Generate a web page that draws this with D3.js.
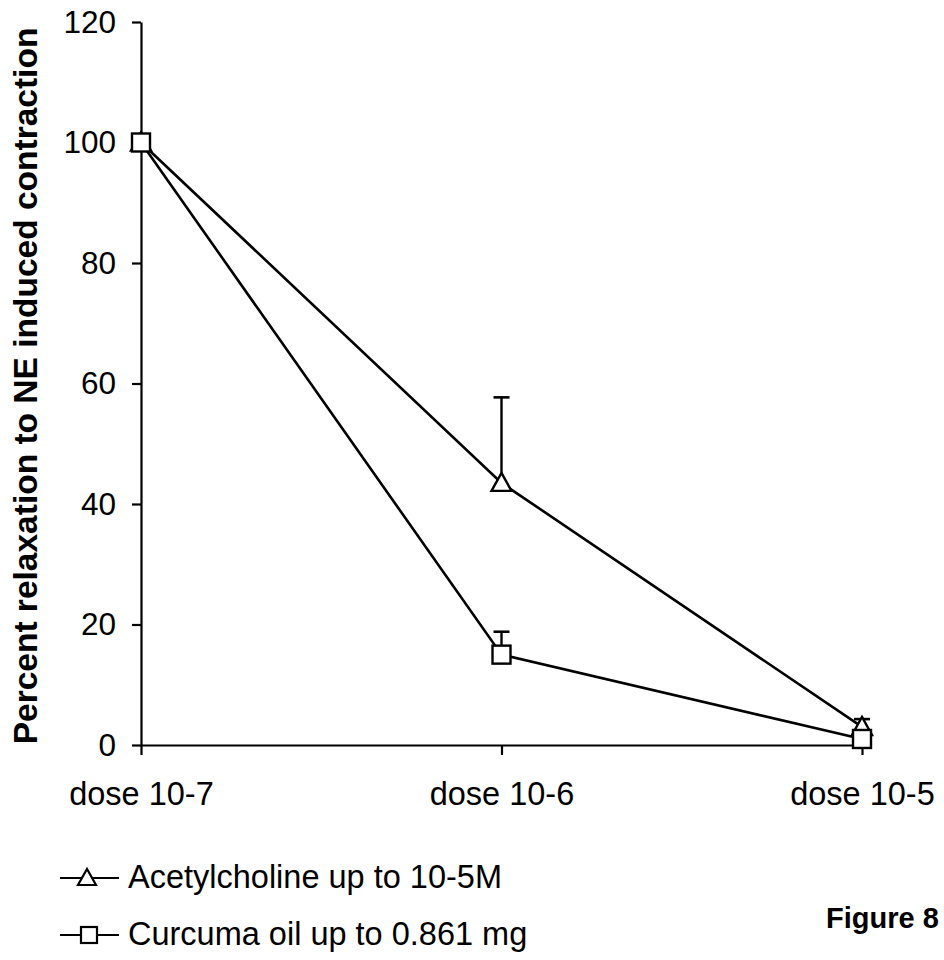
<!DOCTYPE html>
<html><head><meta charset="utf-8">
<script src="https://cdn.jsdelivr.net/npm/d3@7"></script>
<style>body{margin:0;background:#fff;} svg{display:block;}</style>
</head><body>
<svg id="c" width="944" height="960"></svg>
<script>
const categories = ["dose 10-7", "dose 10-6", "dose 10-5"];
const achValues = [100, 43.5, 3];
const achErrors = [0, 14.2, 1.3];
const curValues = [100, 15, 1];
const curErrors = [0, 3.8, 0];
const yTicks = [0, 20, 40, 60, 80, 100, 120];
const seriesNames = ["Acetylcholine up to 10-5M", "Curcuma oil up to 0.861 mg"];
const yLabel = "Percent relaxation to NE induced contraction";
const figureLabel = "Figure 8";

const svg = d3.select("#c");
const font = "'Liberation Sans', Arial, sans-serif";
const x = d3.scalePoint().domain(categories).range([141, 862]);
const y = d3.scaleLinear().domain([0, 120]).range([745, 22]);

// axes
const yAxis = svg.append("g").attr("transform", "translate(141,0)")
  .call(d3.axisLeft(y).tickValues(yTicks).tickSize(9).tickPadding(16).tickSizeOuter(0));
yAxis.select(".domain").attr("stroke", "#000").attr("stroke-width", 2.2);
yAxis.selectAll(".tick line").attr("stroke", "#000").attr("stroke-width", 2.2);
yAxis.selectAll(".tick text").attr("font-family", font).attr("font-size", 31.5).attr("fill", "#000");

const xAxis = svg.append("g").attr("transform", "translate(0,745)")
  .call(d3.axisBottom(x).tickSize(10).tickPadding(27).tickSizeOuter(0));
xAxis.select(".domain").attr("stroke", "#000").attr("stroke-width", 2.2);
xAxis.selectAll(".tick line").attr("stroke", "#000").attr("stroke-width", 2.2);
xAxis.selectAll(".tick text").attr("font-family", font).attr("font-size", 32.5).attr("fill", "#000");

// y label
svg.append("text").attr("transform", "translate(37,386) rotate(-90)")
  .attr("text-anchor", "middle").attr("font-family", font).attr("font-weight", "bold")
  .attr("font-size", 33.5).attr("fill", "#000").text(yLabel);

const line = d3.line().x((d, i) => x(categories[i])).y(d => y(d));
const series = [
  {name: seriesNames[0], values: achValues, errors: achErrors, shape: "tri"},
  {name: seriesNames[1], values: curValues, errors: curErrors, shape: "sq"}
];

series.forEach(s => {
  svg.append("path").attr("d", line(s.values)).attr("fill", "none")
    .attr("stroke", "#000").attr("stroke-width", 2.6);
});
series.forEach(s => {
  s.values.forEach((v, i) => {
    if (s.errors[i] > 0) {
      const cx = x(categories[i]);
      svg.append("line").attr("x1", cx).attr("x2", cx).attr("y1", y(v)).attr("y2", y(v + s.errors[i]))
        .attr("stroke", "#000").attr("stroke-width", 2.4);
      svg.append("line").attr("x1", cx - 8).attr("x2", cx + 8).attr("y1", y(v + s.errors[i])).attr("y2", y(v + s.errors[i]))
        .attr("stroke", "#000").attr("stroke-width", 2.6);
    }
  });
});
function marker(g, shape, cx, cy) {
  if (shape === "tri") {
    g.append("path").attr("d", `M${cx},${cy - 10}L${cx + 10},${cy + 8}L${cx - 10},${cy + 8}Z`)
      .attr("fill", "#fff").attr("stroke", "#000").attr("stroke-width", 2.4);
  } else {
    g.append("rect").attr("x", cx - 9).attr("y", cy - 9).attr("width", 18).attr("height", 18)
      .attr("fill", "#fff").attr("stroke", "#000").attr("stroke-width", 2.4);
  }
}
series.forEach(s => {
  s.values.forEach((v, i) => marker(svg, s.shape, x(categories[i]), y(v)));
});

// legend
series.forEach((s, k) => {
  const ly = 878 + k * 57;
  svg.append("line").attr("x1", 60).attr("x2", 119).attr("y1", ly).attr("y2", ly)
    .attr("stroke", "#000").attr("stroke-width", 2.2);
  if (s.shape === "tri") {
    svg.append("path").attr("d", `M87,${ly - 9}L96,${ly + 7}L78,${ly + 7}Z`)
      .attr("fill", "#fff").attr("stroke", "#000").attr("stroke-width", 2.2);
  } else {
    svg.append("rect").attr("x", 81).attr("y", ly - 8).attr("width", 16).attr("height", 16)
      .attr("fill", "#fff").attr("stroke", "#000").attr("stroke-width", 2.2);
  }
  svg.append("text").attr("x", 128).attr("y", ly + 10).attr("font-family", font)
    .attr("font-size", 32.5).attr("fill", "#000").text(s.name);
});

svg.append("text").attr("x", 826).attr("y", 928).attr("font-family", font).attr("font-weight", "bold")
  .attr("font-size", 29).attr("fill", "#000").text(figureLabel);
</script>
</body></html>
